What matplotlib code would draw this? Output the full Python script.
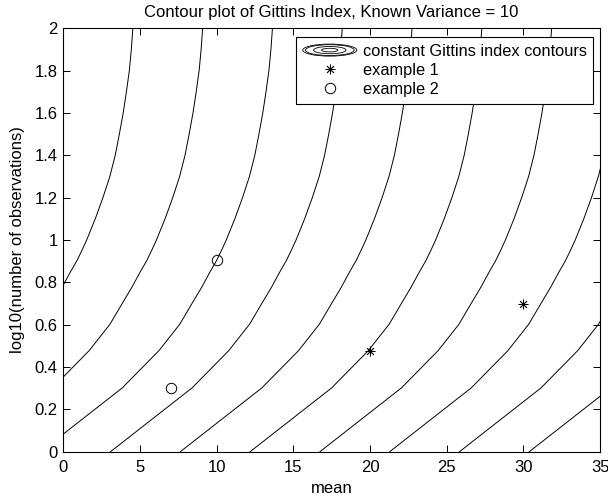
import matplotlib
matplotlib.use("Agg")
import matplotlib.pyplot as plt
from matplotlib.legend_handler import HandlerBase
from matplotlib.patches import Ellipse

plt.rcParams["font.family"] = ["Liberation Sans", "DejaVu Sans"]
plt.rcParams["font.size"] = 12

# shape of one Gittins contour: horizontal shift vs log10(n)
shape_y = [0.0, 0.301, 0.477, 0.602, 0.699, 0.778, 0.845, 0.903, 0.954, 1.0,
           1.1, 1.2, 1.3, 1.4, 1.5, 1.6, 1.7, 1.8, 1.9, 2.0]
shape_dx = [0.0, 5.31, 7.70, 9.06, 9.85, 10.50, 11.00, 11.46, 11.80, 12.09,
            12.65, 13.15, 13.60, 13.95, 14.22, 14.47, 14.68, 14.87, 15.00, 15.10]
# where each contour meets log10(n) = 0
contour_starts = [-10.56, -6.01, -1.46, 3.09, 7.64, 12.19, 16.74, 21.29, 25.84, 30.39]

ex1_mean = [20, 30]
ex1_logn = [0.477, 0.699]
ex2_mean = [7, 10]
ex2_logn = [0.301, 0.903]

xticks = [0, 5, 10, 15, 20, 25, 30, 35]
yticks = [0, 0.2, 0.4, 0.6, 0.8, 1.0, 1.2, 1.4, 1.6, 1.8, 2.0]
ytick_labels = ["0", "0.2", "0.4", "0.6", "0.8", "1", "1.2", "1.4", "1.6", "1.8", "2"]


class ContourIcon:
    pass


class HandlerContourIcon(HandlerBase):
    def create_artists(self, legend, orig_handle, xdescent, ydescent,
                       width, height, fontsize, trans):
        cx = width / 2 - xdescent
        cy = height / 2 - ydescent
        artists = []
        for s in (1.0, 0.9, 0.6, 0.3):
            e = Ellipse((cx, cy), width * s, height * 1.05 * s, fill=False,
                        edgecolor="black", lw=0.6, transform=trans)
            artists.append(e)
        return artists


fig = plt.figure(figsize=(6.08, 4.97), dpi=100)
ax = fig.add_axes([0.104, 0.0913, 0.883, 0.852])

for x0 in contour_starts:
    ax.plot([x0 + d for d in shape_dx], shape_y, color="black", lw=0.7)

l1, = ax.plot(ex1_mean, ex1_logn, ls="none", marker=(8, 2, 0), ms=7,
              mec="black", mew=0.6, color="black")
l2, = ax.plot(ex2_mean, ex2_logn, ls="none", marker="o", ms=7.5,
              mfc="none", mec="black", mew=0.7)

ax.set_xlim(0, 35)
ax.set_ylim(0, 2)
ax.set_xticks(xticks)
ax.set_yticks(yticks)
ax.set_yticklabels(ytick_labels)
ax.tick_params(direction="in", top=True, right=True, length=5, width=0.7,
               labelsize=12)
ax.tick_params(axis="x", pad=6)
ax.tick_params(axis="y", pad=4)
for sp in ax.spines.values():
    sp.set_linewidth(0.8)

ax.set_xlabel("mean", fontsize=12, labelpad=4)
ax.set_ylabel("log10(number of observations)", fontsize=12, labelpad=7)
ax.set_title("Contour plot of Gittins Index, Known Variance = 10",
             fontsize=12, pad=8)

leg = ax.legend([ContourIcon(), l1, l2],
                ["constant Gittins index contours", "example 1", "example 2"],
                handler_map={ContourIcon: HandlerContourIcon()},
                loc="upper right", bbox_to_anchor=(0.987, 0.9785),
                borderaxespad=0, fancybox=False, edgecolor="black",
                framealpha=1, fontsize=11.8, handlelength=3.3,
                handletextpad=0.35, borderpad=0.4, labelspacing=0.25)
leg.get_frame().set_linewidth(0.8)

fig.savefig("out.png", dpi=100)
